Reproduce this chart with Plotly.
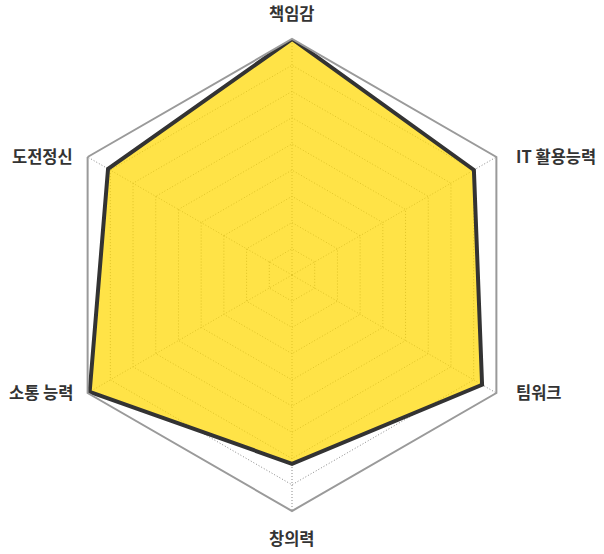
import math
import plotly.graph_objects as go

categories = ["책임감", "IT 활용능력", "팀워크", "창의력", "소통 능력", "도전정신"]
scores = [100, 89, 93, 80, 99, 90]
ring_values = [100 * k / 9 for k in range(1, 10)]

theta = categories + categories[:1]
r = scores + scores[:1]

fig = go.Figure(
    go.Scatterpolar(
        r=r,
        theta=theta,
        mode="lines",
        fill="toself",
        fillcolor="rgba(255,216,0,0.72)",
        line=dict(color="#333333", width=4),
        hoverinfo="skip",
        showlegend=False,
    )
)

# category labels placed just outside each polygon vertex
annotations = []
n = len(categories)
for i, name in enumerate(categories):
    ang = 2 * math.pi * i / n
    sx, sy = math.sin(ang), math.cos(ang)
    px, py = 0.5 + 0.5 * sx, 0.5 + 0.5 * sy
    if abs(sx) < 1e-6:
        xanchor, xshift = "center", 0
        yshift = 26 if sy > 0 else -27
    else:
        xanchor = "left" if sx > 0 else "right"
        xshift = 18 if sx > 0 else -13
        yshift = 1
    annotations.append(dict(
        x=px, y=py, xref="paper", yref="paper", text=name, showarrow=False,
        xanchor=xanchor, yanchor="middle", xshift=xshift, yshift=yshift,
        font=dict(family="Noto Sans CJK KR", size=16.5, color="#333333", weight="bold"),
    ))

fig.update_layout(
    width=604,
    height=554,
    margin=dict(l=56, r=76, t=39, b=43),
    paper_bgcolor="white",
    plot_bgcolor="white",
    font=dict(family="Noto Sans CJK KR", size=15, color="#333333"),
    annotations=annotations,
    polar=dict(
        bgcolor="white",
        gridshape="linear",
        radialaxis=dict(
            range=[0, 100],
            tickvals=ring_values,
            showticklabels=False,
            ticks="",
            showline=False,
            gridcolor="#8a8a8a",
            griddash="1px,2px",
            gridwidth=1,
        ),
        angularaxis=dict(
            direction="clockwise",
            rotation=90,
            showline=True,
            linecolor="#9a9a9a",
            linewidth=2,
            gridcolor="#8a8a8a",
            griddash="1px,2px",
            gridwidth=1,
            ticks="",
            showticklabels=False,
        ),
    ),
)

fig.write_html("out.html")
